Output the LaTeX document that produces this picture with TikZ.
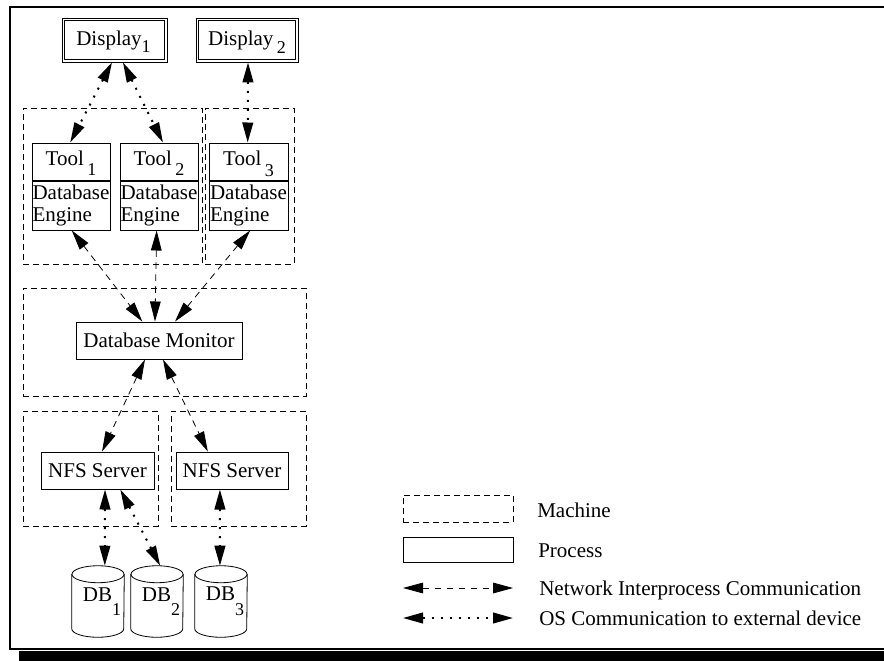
\documentclass[tikz,border=0pt]{standalone}
\usepackage{fontspec}
\setmainfont{Liberation Serif}
\usetikzlibrary{arrows.meta,fit,calc}
\newcommand\lsub[2]{\raisebox{-#1}{\fontsize{13.5}{13.5}\selectfont #2}}
\newcommand\cylshape[1]{%
  \draw[line width=0.6pt] ([yshift=-6.375pt]#1.north) ellipse [x radius=19.5pt, y radius=6.375pt];
  \draw[line width=0.6pt] ([yshift=-6.375pt]#1.north west) -- ([yshift=6.375pt]#1.south west)
     arc[start angle=180, end angle=360, x radius=19.5pt, y radius=6.375pt] -- ([yshift=-6.375pt]#1.north east);}
\newcommand\innerbox[1]{%
  \draw[line width=0.6pt] ([xshift=2.25pt,yshift=-2.25pt]#1.north west) rectangle ([xshift=-2.25pt,yshift=2.25pt]#1.south east);}
\begin{document}
\begin{tikzpicture}[x=0.75pt,y=-0.75pt,
  font=\fontsize{15.75}{16.5}\selectfont,
  >={Triangle[length=15pt,width=8pt]},
  proc/.style={draw, line width=0.75pt, inner sep=0pt},
  machine/.style={draw, line width=0.6pt, dash pattern=on 4.5pt off 3pt, inner sep=0pt},
  disp/.style={draw, line width=0.6pt, inner sep=0pt},
  lbl/.style={inner sep=0pt},
  net/.style={line width=0.6pt, dash pattern=on 5pt off 4pt, <->},
  os/.style={line width=1.5pt, dash pattern=on 1.5pt off 5.25pt, <->},
  ltext/.style={anchor=base west, inner sep=0pt}]
\useasboundingbox (0,0) rectangle (884,660);
\clip (0,0) rectangle (884,660);
% frame and shadow
\fill (19,650.5) rectangle (900,662);
\draw[line width=1.5pt] (10,7) rectangle (900,649);
% machines
\node[machine, fit={(23,108) (202,264)}] (m1) {};
\node[machine, fit={(205,108) (294,264)}] (m2) {};
\node[machine, fit={(23,288) (306,396)}] (m3) {};
\node[machine, fit={(23,411) (158,526)}] (m4) {};
\node[machine, fit={(171,411) (306,526)}] (m5) {};
% displays
\node[disp, fit={(62,18) (167,62)}] (d1) {};
\innerbox{d1}
\node[lbl] (d1t) at ($(d1.center)+(-1,2)$) {Display\lsub{5.25pt}{1}};
\node[disp, fit={(196,18) (298,62)}] (d2) {};
\innerbox{d2}
\node[lbl] (d2t) at ($(d2.center)+(0,2)$) {Display\,\lsub{6pt}{2}};
% tools and engines
\node[proc, fit={(32,143) (110,180)}] (t1) {};
\node[lbl] (t1t) at ($(t1.center)+(0,2)$) {Tool\,\lsub{7.5pt}{1}};
\node[proc, fit={(32,181) (110,230)}] (e1) {};
\node[lbl, align=left] (e1t) at (e1.center) {Database\\Engine};
\node[proc, fit={(120,143) (198,180)}] (t2) {};
\node[lbl] (t2t) at ($(t2.center)+(0,2)$) {Tool\,\lsub{7.5pt}{2}};
\node[proc, fit={(120,181) (198,230)}] (e2) {};
\node[lbl, align=left] (e2t) at (e2.center) {Database\\Engine};
\node[proc, fit={(209,143) (288,180)}] (t3) {};
\node[lbl] (t3t) at ($(t3.center)+(0,2)$) {Tool\,\lsub{8.5pt}{3}};
\node[proc, fit={(209,181) (288,230)}] (e3) {};
\node[lbl, align=left] (e3t) at (e3.center) {Database\\Engine};
% monitor
\node[proc, fit={(76,322) (242,359)}] (mon) {};
\node[lbl] (mont) at (mon.center) {Database Monitor};
% NFS servers
\node[proc, fit={(41,452) (154,489)}] (n1) {};
\node[lbl] (n1t) at (n1.center) {NFS Server};
\node[proc, fit={(176,452) (288,489)}] (n2) {};
\node[lbl] (n2t) at (n2.center) {NFS Server};
% databases
\node[inner sep=0pt, fit={(72,566) (124,637)}] (db1) {};
\node[inner sep=0pt, fit={(131,566) (183,637)}] (db2) {};
\node[inner sep=0pt, fit={(195,566) (247,637)}] (db3) {};
\cylshape{db1}
\cylshape{db2}
\cylshape{db3}
\node[lbl] (l1) at ($(db1.center)+(4,0)$) {DB\lsub{11pt}{1}};
\node[lbl] (l2) at ($(db2.center)+(4,0)$) {DB\lsub{11pt}{2}};
\node[lbl] (l3) at ($(db3.center)+(4,0)$) {DB\lsub{11pt}{3}};
% OS connectors
\draw[os] ($(d1.south west)!0.476!(d1.south east)$) -- ($(t1.north west)!0.49!(t1.north east)$);
\draw[os] ($(d1.south west)!0.58!(d1.south east)$) -- ($(t2.north west)!0.55!(t2.north east)$);
\draw[os] ($(d2.south west)!0.51!(d2.south east)$) -- ($(t3.north west)!0.49!(t3.north east)$);
\draw[os] ($(n1.south west)!0.566!(n1.south east)$) -- ($(db1.north west)!0.63!(db1.north east)$);
\draw[os] ($(n1.south west)!0.70!(n1.south east)$) -- ($(db2.north west)!0.56!(db2.north east)$);
\draw[os] ($(n2.south west)!0.393!(n2.south east)$) -- ($(db3.north west)!0.48!(db3.north east)$);
% network connectors
\draw[net] ($(e1.south west)!0.51!(e1.south east)$) -- ($(mon.north west)!0.40!(mon.north east)$);
\draw[net] ($(e2.south west)!0.47!(e2.south east)$) -- ($(mon.north west)!0.476!(mon.north east)$);
\draw[net] ($(e3.south west)!0.52!(e3.south east)$) -- ($(mon.north west)!0.596!(mon.north east)$);
\draw[net] ($(mon.south west)!0.416!(mon.south east)$) -- ($(n1.north west)!0.54!(n1.north east)$);
\draw[net] ($(mon.south west)!0.524!(mon.south east)$) -- ($(n2.north west)!0.286!(n2.north east)$);
% legend
\node[machine, fit={(403,495) (513,522)}] (lm) {};
\node[ltext] (lmt) at (537,517) {Machine};
\node[proc, fit={(403,537) (513,562)}] (lp) {};
\node[ltext] (lpt) at (538,557) {Process};
\coordinate (na) at (403,588);
\coordinate (nb) at (513,588);
\draw[net] (na) -- (nb);
\node[ltext] (lnt) at (539,595) {Network Interprocess Communication};
\coordinate (oa) at (403,618);
\coordinate (ob) at (513,618);
\draw[os] (oa) -- (ob);
\node[ltext] (lot) at (539,625) {OS Communication to external device};
\end{tikzpicture}
\end{document}
